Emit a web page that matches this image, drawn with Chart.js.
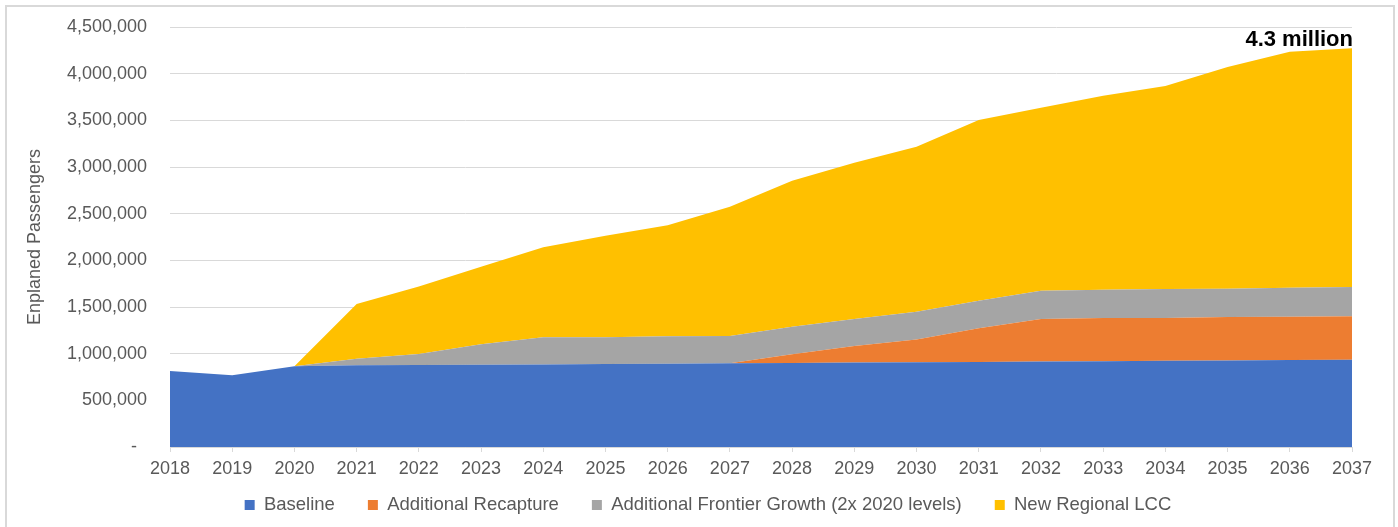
<!DOCTYPE html>
<html>
<head>
<meta charset="utf-8">
<script src="https://cdn.jsdelivr.net/npm/chart.js@4/dist/chart.umd.min.js"></script>
<style>
  html, body { margin: 0; padding: 0; background: #ffffff; }
  #wrap { position: relative; width: 1398px; height: 527px; overflow: hidden; }
  #frame { position: absolute; left: 5px; top: 5px; width: 1386px; height: 600px; border: 2px solid #d9d9d9; pointer-events: none; }
  canvas { position: absolute; left: 0; top: 0; }
</style>
</head>
<body>
<div id="wrap">
  <canvas id="c" width="1398" height="527"></canvas>
  <div id="frame"></div>
</div>
<script>
const years = ['2018','2019','2020','2021','2022','2023','2024','2025','2026','2027','2028','2029','2030','2031','2032','2033','2034','2035','2036','2037'];
const baseline  = [815000, 770000, 865000, 875000, 878000, 880000, 885000, 888000, 893000, 897000, 900000, 905000, 908000, 910000, 915000, 920000, 925000, 928000, 932000, 935000];
const recapture = [0, 0, 0, 0, 0, 0, 0, 0, 0, 0, 93000, 177000, 245000, 361000, 456000, 462000, 457000, 465000, 464000, 465000];
const frontier  = [0, 0, 0, 71000, 118000, 220000, 290000, 287000, 293000, 292000, 296000, 289000, 297000, 297000, 304000, 304000, 311000, 303000, 311000, 314000];
const lcc       = [0, 0, 0, 586000, 724000, 831000, 964000, 1089000, 1189000, 1386000, 1564000, 1675000, 1768000, 1936000, 1961000, 2078000, 2175000, 2375000, 2529000, 2557000];
const seriesNames = ['Baseline', 'Additional Recapture', 'Additional Frontier Growth (2x 2020 levels)', 'New Regional LCC'];
const yTickStep = 500000;
const yMax = 4500000;
const annotationText = '4.3 million';
const yTitle = 'Enplaned Passengers';

const colors = ['#4472C4', '#ED7D31', '#A5A5A5', '#FFC000'];
const FONT = '"Liberation Sans", Arial, sans-serif';
const TXT = '#595959';
const LEGEND_FONT = 18.5;
const LEGEND_PAD = 33;

function ds(label, data, color, fill) {
  return {
    label, data,
    backgroundColor: color,
    borderColor: color,
    borderWidth: 0,
    pointRadius: 0,
    pointHoverRadius: 0,
    tension: 0,
    fill
  };
}

const annotate = {
  id: 'annotate',
  afterDatasetsDraw(chart) {
    const ctx = chart.ctx;
    const last = years.length - 1;
    const total = baseline[last] + recapture[last] + frontier[last] + lcc[last];
    const x = chart.scales.x.getPixelForValue(last);
    const y = chart.scales.y.getPixelForValue(total);
    ctx.save();
    ctx.font = 'bold 22px ' + FONT;
    ctx.fillStyle = '#000000';
    ctx.textAlign = 'right';
    ctx.textBaseline = 'alphabetic';
    ctx.fillText(annotationText, x + 1, y - 2);
    ctx.restore();
  }
};

const legendPlace = {
  id: 'legendPlace',
  afterLayout(chart) {
    const lg = chart.legend;
    if (!lg) return;
    const newTop = 505 - (LEGEND_PAD + LEGEND_FONT / 2);
    lg.top = newTop;
    lg.bottom = chart.height;
    lg.height = lg.bottom - lg.top;
    lg.left += 32; lg.right += 32;
  }
};

new Chart(document.getElementById('c'), {
  type: 'line',
  data: {
    labels: years,
    datasets: [
      ds(seriesNames[0], baseline, colors[0], 'origin'),
      ds(seriesNames[1], recapture, colors[1], '-1'),
      ds(seriesNames[2], frontier, colors[2], '-1'),
      ds(seriesNames[3], lcc, colors[3], '-1')
    ]
  },
  options: {
    responsive: false,
    animation: false,
    events: [],
    layout: { padding: { left: 0, right: 46, top: 27, bottom: 0 } },
    plugins: {
      tooltip: { enabled: false },
      legend: {
        position: 'bottom',
        maxHeight: 41,
        labels: {
          font: { family: FONT, size: LEGEND_FONT },
          color: TXT,
          boxWidth: 10,
          boxHeight: 10,
          padding: LEGEND_PAD
        }
      }
    },
    scales: {
      x: {
        type: 'category',
        offset: false,
        grid: { drawOnChartArea: false, drawTicks: true, tickLength: 5, color: '#d9d9d9' },
        border: { color: '#d9d9d9', width: 1 },
        ticks: { font: { family: FONT, size: 18 }, color: TXT, padding: 6, maxRotation: 0, autoSkip: false },
        afterFit(scale) { scale.height = 39; }
      },
      y: {
        stacked: true,
        min: 0,
        max: yMax,
        grid: { color: '#d9d9d9', lineWidth: 1, drawTicks: true, tickLength: 20, tickColor: 'rgba(0,0,0,0)' },
        border: { display: false },
        ticks: {
          stepSize: yTickStep,
          font: { family: FONT, size: 18 },
          color: TXT,
          padding: 3,
          callback: (v) => v === 0 ? '-  ' : Number(v).toLocaleString('en-US')
        },
        title: {
          display: true,
          text: yTitle,
          font: { family: FONT, size: 18 },
          color: TXT,
          padding: { top: 24, bottom: 0 }
        },
        afterFit(scale) { scale.width = 170; }
      }
    }
  },
  plugins: [annotate, legendPlace]
});
</script>
</body>
</html>
